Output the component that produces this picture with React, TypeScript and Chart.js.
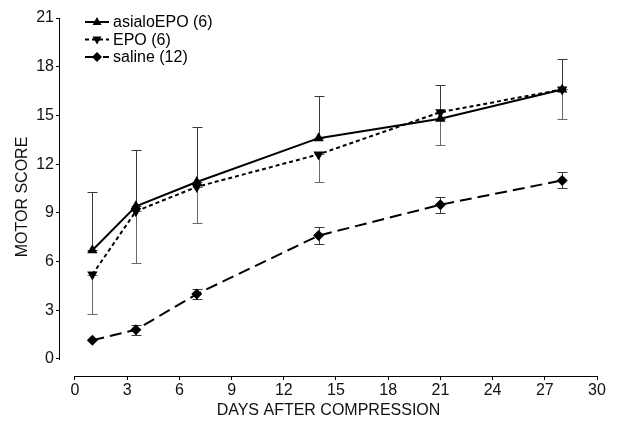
import React, { useEffect, useRef } from "react";
import { Chart, registerables } from "chart.js";

Chart.register(...registerables);

const days = [1, 3.5, 7, 14, 21, 28];
const asialoEPO = [6.7, 9.4, 10.9, 13.6, 14.8, 16.6];
const asialoEPOUpper = [10.3, 12.9, 14.3, 16.2, 16.9, 18.5];
const epo = [5.2, 9.1, 10.6, 12.6, 15.2, 16.6];
const epoLower = [2.8, 5.9, 8.4, 10.9, 13.2, 14.8];
const saline = [1.15, 1.8, 4.0, 7.6, 9.5, 11.0];
const salineUpper = [null, 2.1, 4.3, 8.1, 10.0, 11.5];
const salineLower = [null, 1.5, 3.7, 7.1, 9.0, 10.5];
const yTicks = [0, 3, 6, 9, 12, 15, 18, 21];
const xTicks = [0, 3, 6, 9, 12, 15, 18, 21, 24, 27, 30];
const seriesLabels = ["asialoEPO (6)", "EPO (6)", "saline (12)"];

const FONT = "'Liberation Sans', Arial, sans-serif";

function drawMarker(ctx: CanvasRenderingContext2D, style: string, x: number, y: number, r: number) {
  ctx.save();
  ctx.setLineDash([]);
  ctx.fillStyle = "#000";
  ctx.beginPath();
  if (style === "triangle") {
    ctx.moveTo(x, y - r);
    ctx.lineTo(x + r * 0.9, y + r * 0.6);
    ctx.lineTo(x - r * 0.9, y + r * 0.6);
  } else if (style === "triangleDown") {
    ctx.moveTo(x, y + r);
    ctx.lineTo(x + r * 0.9, y - r * 0.6);
    ctx.lineTo(x - r * 0.9, y - r * 0.6);
  } else {
    ctx.moveTo(x, y - r);
    ctx.lineTo(x + r, y);
    ctx.lineTo(x, y + r);
    ctx.lineTo(x - r, y);
  }
  ctx.closePath();
  ctx.fill();
  ctx.restore();
}

const errorBarPlugin = {
  id: "errorBars",
  beforeDatasetsDraw(chart: any) {
    const ctx = chart.ctx;
    const xs = chart.scales.x;
    const ys = chart.scales.y;
    const bars: { d: number; lo: number; hi: number; color: string }[] = [];
    days.forEach((d, i) => {
      bars.push({ d, lo: asialoEPO[i], hi: asialoEPOUpper[i], color: "#3a3a3a" });
      bars.push({ d, lo: epoLower[i], hi: epo[i], color: "#6a6a6a" });
      if (salineUpper[i] != null && salineLower[i] != null) {
        bars.push({ d, lo: salineLower[i] as number, hi: salineUpper[i] as number, color: "#3a3a3a" });
      }
    });
    ctx.save();
    ctx.lineWidth = 1;
    ctx.setLineDash([]);
    bars.forEach((b) => {
      const x = Math.round(xs.getPixelForValue(b.d)) + 0.5;
      const y1 = Math.round(ys.getPixelForValue(b.lo)) + 0.5;
      const y2 = Math.round(ys.getPixelForValue(b.hi)) + 0.5;
      ctx.strokeStyle = b.color;
      ctx.beginPath();
      ctx.moveTo(x, y1);
      ctx.lineTo(x, y2);
      ctx.moveTo(x - 5, y1);
      ctx.lineTo(x + 5, y1);
      ctx.moveTo(x - 5, y2);
      ctx.lineTo(x + 5, y2);
      ctx.stroke();
    });
    ctx.restore();
  },
};

const axesAndLegendPlugin = {
  id: "axesLegend",
  afterDraw(chart: any) {
    const ctx = chart.ctx;
    const xs = chart.scales.x;
    const ys = chart.scales.y;
    const area = chart.chartArea;
    ctx.save();
    ctx.strokeStyle = "#000";
    ctx.lineWidth = 1;
    ctx.setLineDash([]);
    const lx = Math.round(area.left) - 0.5;
    const by = Math.round(area.bottom) + 0.5;
    ctx.beginPath();
    ctx.moveTo(lx, Math.round(ys.getPixelForValue(21)));
    ctx.lineTo(lx, Math.round(ys.getPixelForValue(0)) + 1);
    ctx.moveTo(Math.round(xs.getPixelForValue(0)), by);
    ctx.lineTo(Math.round(xs.getPixelForValue(30)) + 1, by);
    ctx.stroke();

    // legend
    const styles = ["triangle", "triangleDown", "rectRot"];
    const dashes = [[], [4, 3], [12, 6]];
    const rowsY = [22, 39.5, 57];
    ctx.font = `16px ${FONT}`;
    ctx.textBaseline = "middle";
    ctx.fillStyle = "#000";
    seriesLabels.forEach((label, i) => {
      const y = rowsY[i];
      ctx.save();
      ctx.lineWidth = 2;
      ctx.strokeStyle = "#000";
      ctx.setLineDash(dashes[i]);
      ctx.beginPath();
      ctx.moveTo(85, y);
      ctx.lineTo(109, y);
      ctx.stroke();
      ctx.restore();
      drawMarker(ctx, styles[i], 97, y, 5);
      ctx.fillText(label, 113, y + 1);
    });
    ctx.restore();
  },
};

export default function App() {
  const canvasRef = useRef<HTMLCanvasElement | null>(null);

  useEffect(() => {
    if (!canvasRef.current) return;
    const mk = (vals: number[]) => vals.map((v, i) => ({ x: days[i], y: v }));
    const chart = new Chart(canvasRef.current, {
      type: "line",
      data: {
        datasets: [
          {
            label: seriesLabels[0],
            data: mk(asialoEPO),
            borderColor: "#000",
            backgroundColor: "#000",
            borderWidth: 2,
            pointStyle: "triangle",
            pointRadius: 6,
            pointBorderWidth: 0,
            tension: 0,
          },
          {
            label: seriesLabels[1],
            data: mk(epo),
            borderColor: "#000",
            backgroundColor: "#000",
            borderWidth: 2,
            borderDash: [4, 3],
            pointStyle: "triangle",
            rotation: 180,
            pointRadius: 6,
            pointBorderWidth: 0,
            tension: 0,
          },
          {
            label: seriesLabels[2],
            data: mk(saline),
            borderColor: "#000",
            backgroundColor: "#000",
            borderWidth: 2,
            borderDash: [12, 6],
            pointStyle: "rectRot",
            pointRadius: 5.5,
            pointBorderWidth: 0,
            tension: 0,
          },
        ],
      },
      options: {
        animation: false,
        responsive: false,
        maintainAspectRatio: false,
        layout: { padding: { left: 0, top: 18, right: 20, bottom: 0 } },
        plugins: {
          legend: { display: false },
          tooltip: { enabled: false },
        },
        scales: {
          x: {
            type: "linear",
            min: -0.86,
            max: 30,
            afterBuildTicks: (scale: any) => {
              scale.ticks = xTicks.map((v) => ({ value: v }));
            },
            afterFit: (scale: any) => {
              scale.height = 47;
            },
            grid: { display: true, drawOnChartArea: false, drawTicks: true, tickLength: 4, color: "#000" },
            border: { display: false },
            ticks: {
              color: "#111",
              font: { family: FONT, size: 16 },
              padding: 1,
              maxRotation: 0,
              autoSkip: false,
            },
            title: {
              display: true,
              text: "DAYS AFTER COMPRESSION",
              color: "#111",
              font: { family: FONT, size: 16 },
              padding: { top: 0, bottom: 3 },
            },
          },
          y: {
            type: "linear",
            min: -1.047,
            max: 21,
            afterBuildTicks: (scale: any) => {
              scale.ticks = yTicks.map((v) => ({ value: v }));
            },
            afterFit: (scale: any) => {
              scale.width = 60;
            },
            grid: { display: true, drawOnChartArea: false, drawTicks: true, tickLength: 4, color: "#000" },
            border: { display: false },
            ticks: {
              color: "#111",
              font: { family: FONT, size: 16 },
              padding: 2,
              autoSkip: false,
            },
            title: {
              display: true,
              text: "MOTOR SCORE",
              color: "#111",
              font: { family: FONT, size: 16 },
              padding: { top: 13, bottom: 0 },
            },
          },
        },
      },
      plugins: [errorBarPlugin, axesAndLegendPlugin],
    });
    return () => chart.destroy();
  }, []);

  return (
    <div style={{ position: "absolute", left: 0, top: 0, width: 617, height: 423, background: "#fff" }}>
      <canvas ref={canvasRef} width={617} height={423} style={{ display: "block" }} />
    </div>
  );
}
